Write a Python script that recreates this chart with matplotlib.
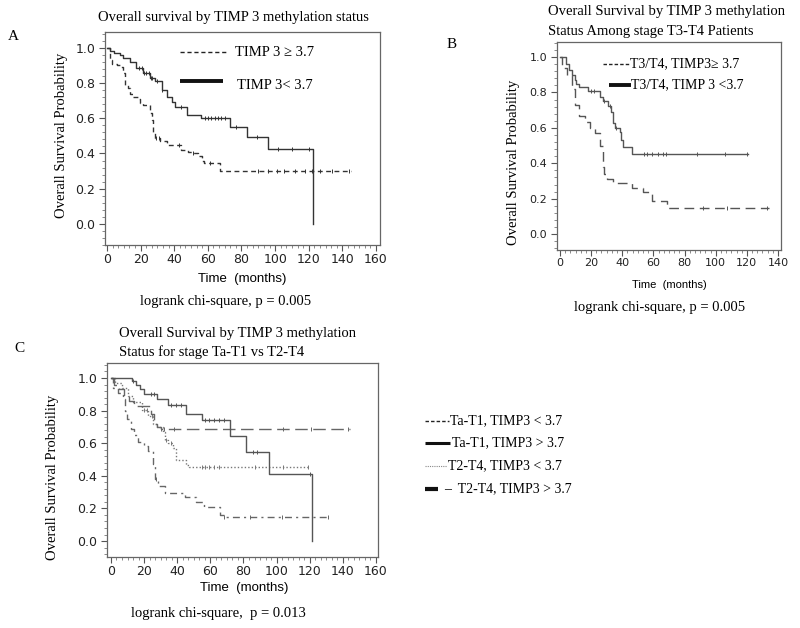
import numpy as np
import matplotlib
matplotlib.use("Agg")
import matplotlib.pyplot as plt
from matplotlib.ticker import AutoMinorLocator

# -------------------------------------------------------------------
# Data (step times, survival, censor marks)
# -------------------------------------------------------------------
# Panel A
a_lo_t = [0, 2, 4, 7.5, 9.5, 13.5, 17.5, 21.5, 25.5, 28.5, 32.5, 35.5, 38.5, 40.5, 47.5, 56, 73, 83, 96, 122.5]
a_lo_s = [1.0, 0.98, 0.97, 0.96, 0.94, 0.92, 0.885, 0.855, 0.83, 0.81, 0.76, 0.72, 0.695, 0.665, 0.62, 0.60, 0.55, 0.495, 0.425, 0.0]
a_lo_end = 122.5
a_lo_cens = [19, 21, 22, 23, 25, 26, 27, 30, 33, 44, 58, 60, 62, 64, 66, 68, 70, 77, 89, 102, 110, 120]

a_hi_t = [0, 1.5, 3, 6, 8.5, 9.5, 10.5, 12.5, 13.5, 15.5, 18.5, 19.5, 21.5, 25.5, 26.5, 27.5, 28.5, 31.5, 35.5, 44, 48, 50.5, 54, 56.5, 57.5, 67.5]
a_hi_s = [1.0, 0.93, 0.91, 0.90, 0.89, 0.855, 0.79, 0.77, 0.74, 0.72, 0.71, 0.685, 0.675, 0.63, 0.59, 0.515, 0.487, 0.468, 0.45, 0.42, 0.41, 0.40, 0.383, 0.355, 0.345, 0.30]
a_hi_end = 145
a_hi_cens = [29, 31, 43, 51, 61, 90, 96, 101, 105, 112, 118, 122, 127, 134, 144]

# Panel B
b_lo_t = [0, 4, 6, 8, 9.5, 10.5, 12.5, 18, 25.5, 27.5, 31, 33, 34, 35.5, 38.5, 39.5, 40.5, 46]
b_lo_s = [1.0, 0.96, 0.925, 0.90, 0.87, 0.85, 0.83, 0.81, 0.775, 0.75, 0.725, 0.69, 0.63, 0.60, 0.575, 0.53, 0.49, 0.45]
b_lo_end = 121
b_lo_cens = [20, 22, 28, 32, 36, 54, 56, 59, 63, 66, 68, 88, 106, 120]

b_hi_t = [0, 1.5, 4.5, 8, 9.5, 12.5, 16, 19, 22.5, 26, 27.5, 28.5, 30.5, 34, 46, 53.5, 59, 68.5]
b_hi_s = [1.0, 0.94, 0.90, 0.82, 0.73, 0.665, 0.635, 0.60, 0.57, 0.50, 0.38, 0.34, 0.31, 0.29, 0.26, 0.235, 0.185, 0.148]
b_hi_end = 134
b_hi_cens = [92, 107, 133]

# Panel C
c1_t = [0, 12.5, 15, 17.5, 20, 27.5, 34.5, 45.5, 55, 72, 81.5, 95.5, 121.5]
c1_s = [1.0, 0.98, 0.955, 0.93, 0.90, 0.873, 0.836, 0.78, 0.74, 0.645, 0.548, 0.41, 0.0]
c1_end = 121.5
c1_cens = [13, 24, 26, 36, 39, 42, 57, 59, 62, 65, 68, 86, 88, 120]

c2_t = [0, 2, 5, 8, 11, 14, 24, 26, 28, 30]
c2_s = [1.0, 0.96, 0.93, 0.89, 0.86, 0.83, 0.78, 0.72, 0.70, 0.69]
c2_end = 144
c2_cens = [30, 32, 38, 72, 104, 121, 143]

c3_t = [0, 2.5, 6.5, 10.5, 13.5, 18.5, 22.5, 25.5, 27.5, 31.5, 32.5, 34.5, 37.5, 39.5, 45.5, 47]
c3_s = [1.0, 0.97, 0.94, 0.89, 0.85, 0.805, 0.765, 0.72, 0.70, 0.67, 0.62, 0.60, 0.57, 0.50, 0.465, 0.455]
c3_end = 120
c3_cens = [20, 22, 25, 33, 36, 55, 57, 59, 62, 65, 87, 104, 119]

c4_t = [0, 1.5, 4.5, 7.5, 8.5, 9.5, 12, 14, 16.5, 20, 22.5, 25.5, 26.5, 28.5, 32.5, 44.5, 51.5, 56, 66, 68]
c4_s = [1.0, 0.94, 0.91, 0.87, 0.80, 0.75, 0.69, 0.65, 0.61, 0.58, 0.55, 0.47, 0.38, 0.335, 0.295, 0.27, 0.24, 0.21, 0.16, 0.15]
c4_end = 132
c4_cens = [27, 68, 84, 103, 131]

y_ticks = [0.0, 0.2, 0.4, 0.6, 0.8, 1.0]

SERIF = "Liberation Serif"
SANS = "Liberation Sans"
TICKFONT = "DejaVu Sans"
W, H = 800, 628


# -------------------------------------------------------------------
# helpers
# -------------------------------------------------------------------
def box(l, t, r, b):
    return [l / W, 1 - b / H, (r - l) / W, (b - t) / H]


def fx(x):
    return x / W


def fy(y):
    return 1 - y / H


def km(ax, times, surv, end, cens, color, dashes=None, lw=1.0):
    t = np.append(times, end)
    s = np.append(surv, surv[-1])
    line, = ax.step(t, s, where="post", color=color, lw=lw)
    if dashes is not None:
        line.set_dashes(dashes)
    idx = np.searchsorted(times, cens, side="right") - 1
    ax.plot(cens, np.asarray(surv)[idx], ls="none", marker="|", ms=3.5,
            mew=0.7, color=color)


def style(ax, xmax, xlim, ylim, fs):
    ax.set_xlim(*xlim)
    ax.set_ylim(*ylim)
    ax.set_xticks(range(0, xmax + 1, 20))
    ax.set_yticks(y_ticks)
    ax.set_yticklabels([f"{v:.1f}" for v in y_ticks])
    ax.xaxis.set_minor_locator(AutoMinorLocator(6))
    ax.yaxis.set_minor_locator(AutoMinorLocator(5))
    ax.tick_params(which="major", direction="out", length=4, width=0.8,
                   color="#555555", labelsize=fs, labelcolor="#222222", pad=3)
    ax.tick_params(axis="x", which="major", pad=2)
    ax.tick_params(which="minor", direction="out", length=2, width=0.6,
                   color="#777777")
    for lab in ax.get_xticklabels() + ax.get_yticklabels():
        lab.set_family(TICKFONT)
    for sp in ax.spines.values():
        sp.set_color("#666666")
        sp.set_linewidth(0.9)


fig = plt.figure(figsize=(8, 6.28), dpi=100)

# -------------------------------------------------------------------
# Panel A
# -------------------------------------------------------------------
axA = fig.add_axes(box(105, 32, 380, 245))
km(axA, a_hi_t, a_hi_s, a_hi_end, a_hi_cens, "#333333", dashes=(3.5, 2.5))
km(axA, a_lo_t, a_lo_s, a_lo_end, a_lo_cens, "#333333")
style(axA, 160, (-1.2, 162.4), (-0.12, 1.09), 9)
axA.plot([0.273, 0.447], [0.906, 0.906], transform=axA.transAxes,
         color="#222222", lw=1.0, dashes=(3, 2))
axA.text(0.473, 0.906, "TIMP 3 ≥ 3.7", transform=axA.transAxes,
         family=SERIF, fontsize=10.5, va="center")
axA.plot([0.273, 0.429], [0.77, 0.77], transform=axA.transAxes,
         color="#111111", lw=2.8, solid_capstyle="butt")
axA.text(0.48, 0.751, "TIMP 3< 3.7", transform=axA.transAxes,
         family=SERIF, fontsize=10.5, va="center")

fig.text(fx(233), fy(17), "Overall survival by TIMP 3 methylation status",
         family=SERIF, fontsize=10.5, ha="center", va="center")
fig.text(fx(13), fy(36), "A", family=SERIF, fontsize=11, ha="center", va="center")
fig.text(fx(62), fy(135), "Overall Survival Probability", family=SERIF,
         fontsize=10.5, rotation=90, ha="center", va="center")
fig.text(fx(242), fy(279), "Time  (months)", family=SANS, fontsize=9.5,
         ha="center", va="center")
fig.text(fx(226), fy(302), "logrank chi-square, p = 0.005", family=SERIF,
         fontsize=10.5, ha="center", va="center")

# -------------------------------------------------------------------
# Panel B
# -------------------------------------------------------------------
axB = fig.add_axes(box(557, 42, 781, 250))
km(axB, b_hi_t, b_hi_s, b_hi_end, b_hi_cens, "#555555", dashes=(7, 4))
km(axB, b_lo_t, b_lo_s, b_lo_end, b_lo_cens, "#555555")
style(axB, 140, (-1.9, 141.9), (-0.09, 1.085), 8)
axB.plot([0.205, 0.326], [0.894, 0.894], transform=axB.transAxes,
         color="#222222", lw=1.0, dashes=(2.5, 1.5))
axB.text(0.326, 0.894, "T3/T4, TIMP3≥ 3.7", transform=axB.transAxes,
         family=SERIF, fontsize=10, va="center")
axB.plot([0.232, 0.33], [0.793, 0.793], transform=axB.transAxes,
         color="#111111", lw=2.8, solid_capstyle="butt")
axB.text(0.33, 0.793, "T3/T4, TIMP 3 <3.7", transform=axB.transAxes,
         family=SERIF, fontsize=10, va="center")

fig.text(fx(548), fy(12), "Overall Survival by TIMP 3 methylation",
         family=SERIF, fontsize=10.5, ha="left", va="center")
fig.text(fx(548), fy(31), "Status Among stage T3-T4 Patients",
         family=SERIF, fontsize=10.5, ha="left", va="center")
fig.text(fx(452), fy(45), "B", family=SERIF, fontsize=11, ha="center", va="center")
fig.text(fx(513), fy(162), "Overall Survival Probability", family=SERIF,
         fontsize=10.5, rotation=90, ha="center", va="center")
fig.text(fx(669), fy(285), "Time  (months)", family=SANS, fontsize=8,
         ha="center", va="center")
fig.text(fx(574), fy(308), "logrank chi-square, p = 0.005", family=SERIF,
         fontsize=10.5, ha="left", va="center")

# -------------------------------------------------------------------
# Panel C
# -------------------------------------------------------------------
axC = fig.add_axes(box(107, 363, 378, 557))
km(axC, c4_t, c4_s, c4_end, c4_cens, "#666666", dashes=(5, 3, 1.5, 3))
km(axC, c3_t, c3_s, c3_end, c3_cens, "#777777", dashes=(1, 1.5))
km(axC, c2_t, c2_s, c2_end, c2_cens, "#666666", dashes=(9, 4))
km(axC, c1_t, c1_s, c1_end, c1_cens, "#555555")
style(axC, 160, (-2.4, 161.2), (-0.098, 1.092), 9)

fig.text(fx(119), fy(333), "Overall Survival by TIMP 3 methylation",
         family=SERIF, fontsize=10.5, ha="left", va="center")
fig.text(fx(119), fy(352), "Status for stage Ta-T1 vs T2-T4",
         family=SERIF, fontsize=10.5, ha="left", va="center")
fig.text(fx(19), fy(349), "C", family=SERIF, fontsize=11, ha="center", va="center")
fig.text(fx(53), fy(477), "Overall Survival Probability", family=SERIF,
         fontsize=10.5, rotation=90, ha="center", va="center")
fig.text(fx(244), fy(588), "Time  (months)", family=SANS, fontsize=9.5,
         ha="center", va="center")
fig.text(fx(218), fy(613), "logrank chi-square,  p = 0.013", family=SERIF,
         fontsize=10.5, ha="center", va="center")

# legend for panel C, drawn in figure coordinates
fig.add_artist(plt.Line2D([fx(425), fx(449)], [fy(421), fy(421)],
                          color="#222222", lw=1.0, dashes=(2.5, 1.5)))
fig.text(fx(450), fy(421), "Ta-T1, TIMP3 < 3.7", family=SERIF, fontsize=10,
         va="center")
fig.add_artist(plt.Line2D([fx(425), fx(450)], [fy(443), fy(443)],
                          color="#111111", lw=2.2, solid_capstyle="butt"))
fig.text(fx(452), fy(443), "Ta-T1, TIMP3 > 3.7", family=SERIF, fontsize=10,
         va="center")
fig.add_artist(plt.Line2D([fx(425), fx(447)], [fy(466), fy(466)],
                          color="#888888", lw=0.8, dashes=(1, 1)))
fig.text(fx(448), fy(466), "T2-T4, TIMP3 < 3.7", family=SERIF, fontsize=10,
         va="center")
fig.add_artist(plt.Line2D([fx(425), fx(438)], [fy(489), fy(489)],
                          color="#111111", lw=3.0, solid_capstyle="butt"))
fig.text(fx(444), fy(489), "–  T2-T4, TIMP3 > 3.7", family=SERIF, fontsize=10,
         va="center")

fig.savefig("out.png", dpi=100)
